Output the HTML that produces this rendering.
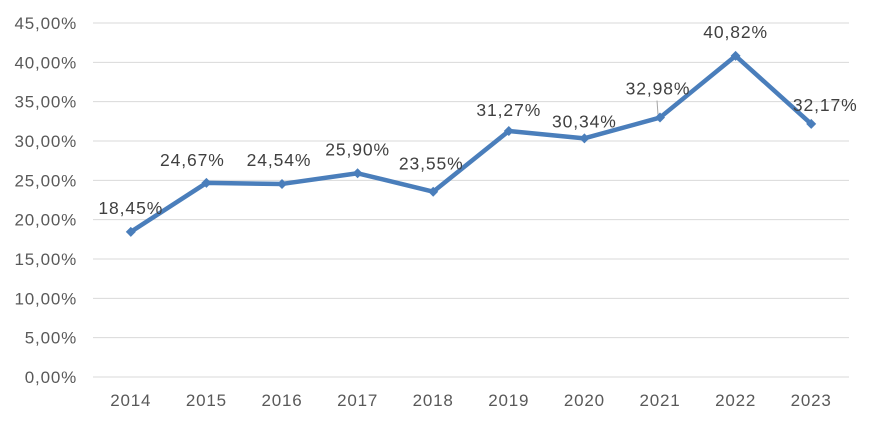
<!DOCTYPE html>
<html><head><meta charset="utf-8"><style>
html,body{margin:0;padding:0;background:#fff;}
svg{display:block;font-family:"Liberation Sans",Arial,sans-serif;}
</style></head><body>
<svg id="chart" width="872" height="423" viewBox="0 0 872 423" xmlns="http://www.w3.org/2000/svg"></svg>
<script>
const categories = ["2014","2015","2016","2017","2018","2019","2020","2021","2022","2023"];
const values = [18.45,24.67,24.54,25.90,23.55,31.27,30.34,32.98,40.82,32.17];
const valueLabels = ["18,45%","24,67%","24,54%","25,90%","23,55%","31,27%","30,34%","32,98%","40,82%","32,17%"];
const yTicks = [0,5,10,15,20,25,30,35,40,45];
const yTickLabels = ["0,00%","5,00%","10,00%","15,00%","20,00%","25,00%","30,00%","35,00%","40,00%","45,00%"];

const NS = "http://www.w3.org/2000/svg";
const svg = document.getElementById("chart");
const L = 93, R = 849, T = 23, B = 377, YMAX = 45;
const band = (R - L) / categories.length;
const x = i => L + band * (i + 0.5);
const y = v => B - (v / YMAX) * (B - T);
function mk(tag, attrs, parent) {
  const e = document.createElementNS(NS, tag);
  for (const k in attrs) e.setAttribute(k, attrs[k]);
  (parent || svg).appendChild(e);
  return e;
}
const lblOff = [[0,-18],[-14,-17],[-3,-18],[0,-18],[-2,-22],[0,-15],[0,-11],[-2,-23],[0,-18],[14,-13]];

yTicks.forEach((t, i) => {
  const g = mk("line", {x1: L, x2: R, y1: y(t), y2: y(t), stroke: "#d9d9d9", "stroke-width": 1});
  
  
  const tx = mk("text", {x: 77, y: y(t) + 6, "text-anchor": "end", "font-size": 17, "letter-spacing": 0.8, fill: "#595959"});
  tx.textContent = yTickLabels[i];
  
  
});
categories.forEach((c, i) => {
  const tx = mk("text", {x: x(i), y: 406, "text-anchor": "middle", "font-size": 17, "letter-spacing": 0.8, fill: "#595959"});
  tx.textContent = c;
  
  
});
const ld = mk("line", {x1: x(7) - 2, y1: y(values[7]) - 3, x2: x(7) - 3, y2: y(values[7]) - 17, stroke: "#a6a6a6", "stroke-width": 1});



const pts = values.map((v, i) => x(i) + "," + y(v)).join(" ");
const line = mk("polyline", {points: pts, fill: "none", stroke: "#4a7ebb", "stroke-width": 4.5, "stroke-linejoin": "round"});


values.forEach((v, i) => {
  const cx = x(i), cy = y(v);
  const m = mk("polygon", {points: `${cx},${cy-5} ${cx+5},${cy} ${cx},${cy+5} ${cx-5},${cy}`, fill: "#4a7ebb"});
  
  
  const tx = mk("text", {x: cx + lblOff[i][0], y: cy + lblOff[i][1], "text-anchor": "middle", "font-size": 17.5, "letter-spacing": 0.9, fill: "#404040"});
  tx.textContent = valueLabels[i];
  
  
});
</script>
</body></html>
